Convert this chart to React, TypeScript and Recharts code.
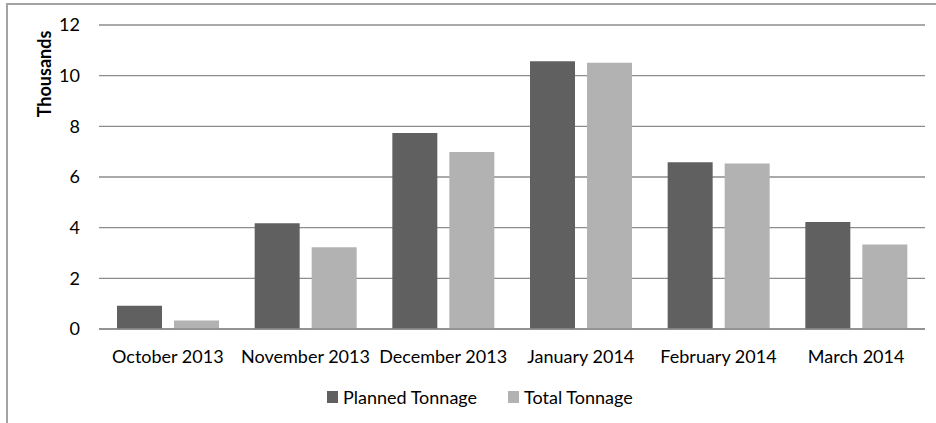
import React from "react";
import { BarChart, Bar, XAxis, YAxis, CartesianGrid, Legend, Label } from "recharts";

// monthly tonnage, in thousands
const months = ["October 2013", "November 2013", "December 2013", "January 2014", "February 2014", "March 2014"];
const planned = [0.92, 4.17, 7.74, 10.57, 6.58, 4.22];
const total = [0.34, 3.23, 6.99, 10.51, 6.53, 3.34];
const yTicks = [0, 2, 4, 6, 8, 10, 12];

const seriesNames = { planned: "Planned Tonnage", total: "Total Tonnage" };
const colors = { planned: "#606060", total: "#b2b2b2" };

const data = months.map((m, i) => ({ month: m, planned: planned[i], total: total[i] }));

const FONT = "Lato, Calibri, sans-serif";
const GRID = "#8c8c8c";

function LegendBox() {
  const items = [
    { key: "planned", label: seriesNames.planned, color: colors.planned },
    { key: "total", label: seriesNames.total, color: colors.total },
  ];
  return (
    <div style={{ display: "flex", alignItems: "center", fontFamily: FONT, fontSize: 18, color: "#000" }}>
      {items.map((it, i) => (
        <div key={it.key} style={{ display: "flex", alignItems: "center", marginLeft: i === 0 ? 0 : 31 }}>
          <span style={{ width: 11, height: 12, background: it.color, display: "inline-block", marginRight: 5 }} />
          <span>{it.label}</span>
        </div>
      ))}
    </div>
  );
}

export default function App() {
  return (
    <div style={{ position: "absolute", left: 0, top: 0, width: 936, height: 423, overflow: "hidden", background: "#fff" }}>
      <div
        style={{
          position: "absolute",
          left: 6,
          top: 3,
          width: 960,
          height: 460,
          border: "2px solid #a3a3a3",
          boxSizing: "border-box",
        }}
      />
      <BarChart
        width={936}
        height={423}
        data={data}
        margin={{ top: 25, right: 11, bottom: 64, left: 0 }}
        barCategoryGap={18}
        barGap={12}
        style={{ position: "absolute", left: 0, top: 0 }}
      >
        <CartesianGrid vertical={false} stroke={GRID} strokeWidth={1.4} />
        <XAxis
          dataKey="month"
          height={30}
          tickLine={false}
          tickSize={0}
          tickMargin={21}
          axisLine={{ stroke: GRID, strokeWidth: 1.6 }}
          tick={{ fontFamily: FONT, fontSize: 18, fill: "#000" }}
          interval={0}
        />
        <YAxis
          width={99}
          domain={[0, 12]}
          ticks={yTicks}
          axisLine={false}
          tickLine={false}
          tickSize={0}
          tickMargin={19}
          tick={{ fontFamily: FONT, fontSize: 18, fill: "#000" }}
        >
          <Label
            value="Thousands"
            angle={-90}
            position="insideTopLeft"
            content={() => (
              <text
                x={44}
                y={74}
                transform="rotate(-90 44 74)"
                textAnchor="middle"
                dominantBaseline="central"
                fontFamily={FONT}
                fontSize={18}
                fontWeight="bold"
                fill="#000"
              >
                Thousands
              </text>
            )}
          />
        </YAxis>
        <Legend
          layout="horizontal"
          verticalAlign="middle"
          align="center"
          content={() => <LegendBox />}
          wrapperStyle={{ top: 386, left: 327, width: "auto" }}
        />
        <Bar dataKey="planned" name={seriesNames.planned} fill={colors.planned} isAnimationActive={false} />
        <Bar dataKey="total" name={seriesNames.total} fill={colors.total} isAnimationActive={false} />
      </BarChart>
    </div>
  );
}
